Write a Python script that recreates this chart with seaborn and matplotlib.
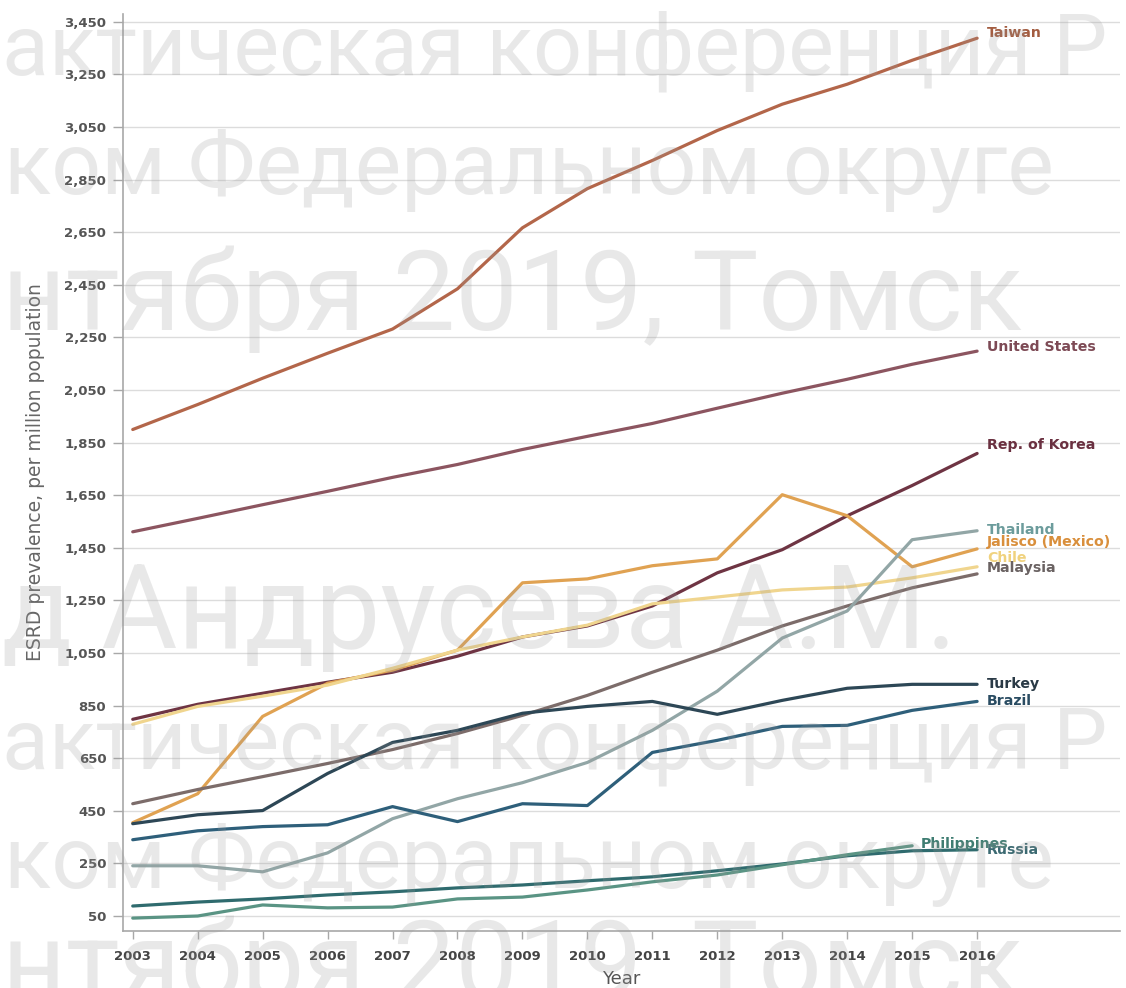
import numpy as np
import pandas as pd
import matplotlib
matplotlib.use("Agg")
import matplotlib.pyplot as plt
import seaborn as sns

# ---------------- data ----------------
years = list(range(2003, 2017))
years_ph = list(range(2003, 2016))

taiwan = [1900, 1995, 2095, 2190, 2282, 2435, 2667, 2816, 2923, 3037, 3137, 3213, 3304, 3388]
united_states = [1511, 1562, 1614, 1665, 1718, 1767, 1824, 1874, 1923, 1981, 2038, 2091, 2148, 2198]
korea = [798, 855, 897, 939, 977, 1038, 1111, 1153, 1229, 1355, 1443, 1572, 1687, 1809]
jalisco = [405, 515, 809, 935, 985, 1061, 1317, 1332, 1382, 1408, 1652, 1572, 1378, 1446]
chile = [779, 847, 886, 928, 992, 1061, 1111, 1156, 1237, 1263, 1290, 1301, 1336, 1378]
malaysia = [477, 531, 580, 630, 683, 744, 813, 889, 977, 1061, 1153, 1229, 1298, 1351]
thailand = [241, 241, 218, 290, 420, 496, 557, 634, 756, 905, 1107, 1210, 1481, 1515]
turkey = [401, 435, 451, 592, 710, 756, 821, 847, 866, 817, 870, 916, 931, 931]
brazil = [340, 374, 390, 397, 466, 409, 477, 470, 672, 718, 771, 775, 832, 866]
russia = [88, 103, 115, 130, 142, 157, 168, 184, 199, 222, 248, 279, 298, 302]
philippines = [42, 50, 92, 81, 84, 115, 122, 149, 180, 206, 245, 283, 317]

y_ticks = [50, 250, 450, 650, 850, 1050, 1250, 1450, 1650, 1850, 2050, 2250,
           2450, 2650, 2850, 3050, 3250, 3450]
y_tick_labels = ["50", "250", "450", "650", "850", "1,050", "1,250", "1,450", "1,650",
                 "1,850", "2,050", "2,250", "2,450", "2,650", "2,850", "3,050", "3,250", "3,450"]
x_ticks = years
x_tick_labels = [str(y) for y in years]

series = {
    "Taiwan": (years, taiwan),
    "United States": (years, united_states),
    "Rep. of Korea": (years, korea),
    "Jalisco (Mexico)": (years, jalisco),
    "Chile": (years, chile),
    "Malaysia": (years, malaysia),
    "Thailand": (years, thailand),
    "Turkey": (years, turkey),
    "Brazil": (years, brazil),
    "Russia": (years, russia),
    "Philippines": (years_ph, philippines),
}

watermark_texts = [
    "актическая конференция Р",
    "ком Федеральном округе",
    "нтября 2019, Томск",
    "д Андрусева А.М.",
    "актическая конференция Р",
    "ком Федеральном округе",
    "нтября 2019, Томск",
]

# ---------------- style ----------------
line_colors = {
    "Taiwan": "#b3664a",
    "United States": "#8c5560",
    "Rep. of Korea": "#6e3443",
    "Jalisco (Mexico)": "#e0a252",
    "Chile": "#f0d58e",
    "Malaysia": "#7c6c6a",
    "Thailand": "#92a6a6",
    "Turkey": "#2d4756",
    "Brazil": "#2e5f7a",
    "Russia": "#2f6b6e",
    "Philippines": "#5a9484",
}
label_colors = {
    "Taiwan": "#a35c40",
    "United States": "#7d4a55",
    "Rep. of Korea": "#6a3040",
    "Jalisco (Mexico)": "#d98f3c",
    "Chile": "#f0d27e",
    "Malaysia": "#6a6262",
    "Thailand": "#6c9c9c",
    "Turkey": "#2a3a46",
    "Brazil": "#2a4c62",
    "Russia": "#3c6a72",
    "Philippines": "#3f7d72",
}
# label offsets in points (dx, dy)
label_offsets = {
    "Taiwan": (7, 4),
    "United States": (7, 3),
    "Rep. of Korea": (7, 6),
    "Jalisco (Mexico)": (7, 5),
    "Chile": (7, 6.5),
    "Malaysia": (7, 4),
    "Thailand": (7, 0.5),
    "Turkey": (7, 0),
    "Brazil": (7, 0.5),
    "Russia": (7, 0),
    "Philippines": (6.5, 1.5),
}
# watermark placement in pixels (left x, baseline y) and font sizes
watermark_pos = [(2, 74), (4, 194), (2, 330), (2, 648), (2, 768), (4, 888), (2, 1000)]
watermark_sizes = [62, 63, 80, 84, 62, 63, 80]

rows = []
for name, (xs, vals) in series.items():
    for x, v in zip(xs, vals):
        rows.append({"Year": x, "Value": v, "Country": name})
df = pd.DataFrame(rows)

sns.set_theme(style="white")
plt.rcParams["font.family"] = ["DejaVu Sans"]

W, H = 1126, 988
fig = plt.figure(figsize=(W / 100, H / 100), dpi=100)
ax_left, ax_right, ax_top, ax_bottom = 123, 1120, 14, 931
ax = fig.add_axes([ax_left / W, 1 - ax_bottom / H, (ax_right - ax_left) / W, (ax_bottom - ax_top) / H])

sns.lineplot(data=df, x="Year", y="Value", hue="Country", palette=line_colors,
             hue_order=list(series.keys()), linewidth=2.3, ax=ax, legend=False, zorder=3)

ax.set_xlim(2002.85, 2018.2)
ax.set_ylim(-7, 3480)
ax.set_yticks(y_ticks)
ax.set_yticklabels(y_tick_labels)
ax.set_xticks(x_ticks)
ax.set_xticklabels(x_tick_labels)

ax.grid(axis="y", color="#dcdcdc", linewidth=1.0, zorder=0)
ax.grid(axis="x", visible=False)
for s in ["top", "right"]:
    ax.spines[s].set_visible(False)
for s in ["left", "bottom"]:
    ax.spines[s].set_color("#a8a8a8")
    ax.spines[s].set_linewidth(1.2)

ax.tick_params(axis="y", which="major", direction="out", length=7, width=1, color="#a8a8a8",
               labelsize=9.5, labelcolor="#555555", pad=5, left=True)
ax.tick_params(axis="x", which="major", direction="out", length=6, width=1, color="#a8a8a8",
               labelsize=9.5, labelcolor="#444444", pad=8, bottom=True)
for lab in ax.get_xticklabels() + ax.get_yticklabels():
    lab.set_fontweight("bold")

ax.set_xlabel("Year", fontsize=13, color="#555555", labelpad=5)
ax.set_ylabel("ESRD prevalence, per million population", fontsize=13.5, color="#666666",
              family=["Liberation Sans Narrow", "DejaVu Sans"])
ax.yaxis.set_label_coords(-0.078, 0.5)

for name, (xs, vals) in series.items():
    dx, dy = label_offsets[name]
    ax.annotate(name, xy=(xs[-1], vals[-1]), xytext=(dx, dy), textcoords="offset points",
                ha="left", va="center", fontsize=10.2, fontweight="bold",
                color=label_colors[name], zorder=5)

# ---------------- watermark ----------------
for txt, (px, py), fs in zip(watermark_texts, watermark_pos, watermark_sizes):
    fig.text(px / W, 1 - py / H, txt, fontsize=fs, color="#9a9a9a", alpha=0.22,
             ha="left", va="baseline", family=["Roboto", "DejaVu Sans"], zorder=10)

fig.savefig("out.png", dpi=100)
